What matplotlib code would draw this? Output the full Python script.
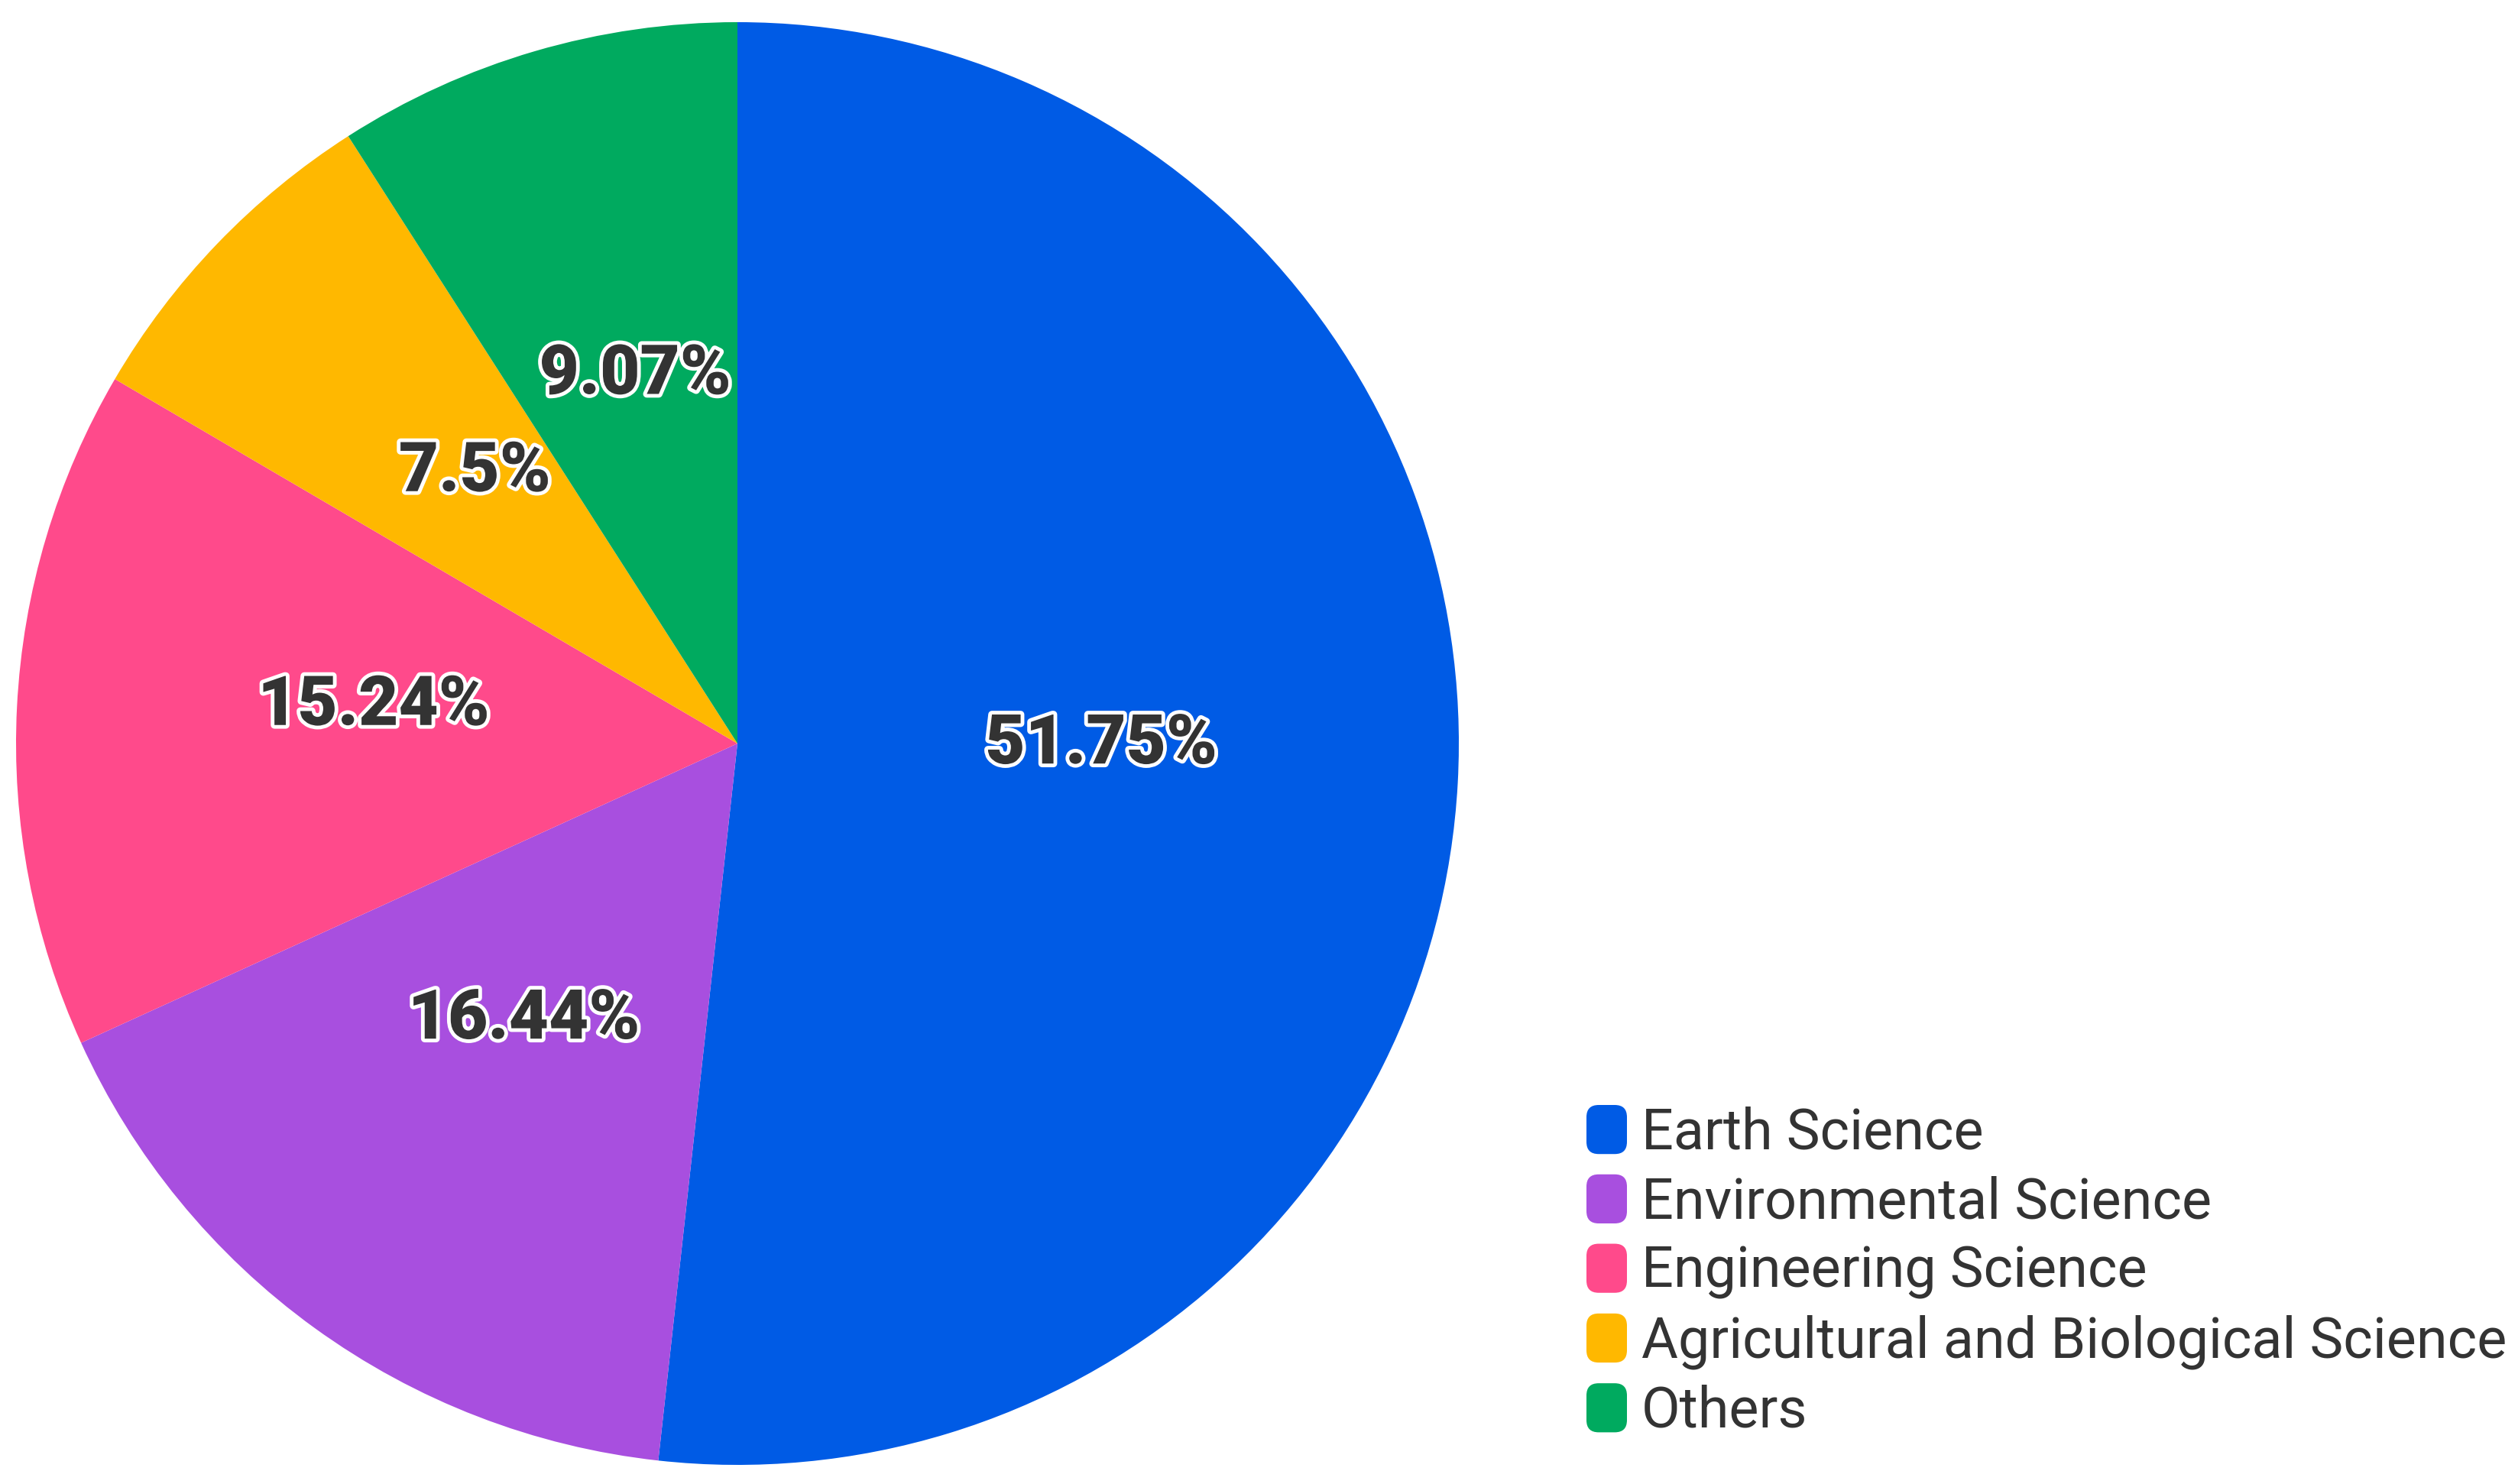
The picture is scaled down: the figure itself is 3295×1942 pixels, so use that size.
import matplotlib
matplotlib.use("Agg")
import matplotlib.pyplot as plt
import matplotlib.patheffects as pe
from matplotlib.patches import FancyBboxPatch, Patch
from matplotlib.legend_handler import HandlerPatch
import numpy as np

categories = ["Earth Science", "Environmental Science", "Engineering Science",
              "Agricultural and Biological Science", "Others"]
values = [51.75, 16.44, 15.24, 7.5, 9.07]
labels_pct = ["51.75%", "16.44%", "15.24%", "7.5%", "9.07%"]
colors = ["#005BE5", "#A84FDF", "#FF4A8B", "#FFB800", "#00AA5F"]

W, H = 3295, 1942
fig = plt.figure(figsize=(W / 100, H / 100), dpi=100)
fig.patch.set_facecolor("white")

cx, cy, r = 965, 973, 944
ax = fig.add_axes([(cx - r) / W, (H - cy - r) / H, 2 * r / W, 2 * r / H])
ax.set_aspect("equal")

wedges, _ = ax.pie(values, colors=colors, startangle=90, counterclock=False,
                   radius=1.0, wedgeprops=dict(linewidth=0))
ax.set_xlim(-1, 1)
ax.set_ylim(-1, 1)
ax.axis("off")

fam = ["Roboto", "DejaVu Sans"]
for w, lab in zip(wedges, labels_pct):
    mid = np.deg2rad((w.theta1 + w.theta2) / 2)
    x, y = 0.505 * np.cos(mid), 0.505 * np.sin(mid)
    ax.annotate(lab, (x, y), xytext=(0, 18), textcoords="offset points",
                ha="center", va="center", fontsize=65,
                fontweight=900, color="#333333", family=fam,
                path_effects=[pe.withStroke(linewidth=7, foreground="white")])


class RoundHandler(HandlerPatch):
    def create_artists(self, legend, orig_handle, xdescent, ydescent,
                       width, height, fontsize, trans):
        p = FancyBboxPatch((-xdescent, -ydescent), width, height,
                           boxstyle="round,pad=0,rounding_size=%f" % (width * 0.3),
                           facecolor=orig_handle.get_facecolor(),
                           edgecolor="none", transform=trans)
        return [p]


handles = [Patch(facecolor=c) for c in colors]
leg = fig.legend(handles, categories, loc="upper left",
                 bbox_to_anchor=(2076 / W, 1 - 1446 / H),
                 frameon=False, borderpad=0, borderaxespad=0,
                 handlelength=0.72, handleheight=0.965, handletextpad=0.26,
                 labelspacing=0.25,
                 prop=dict(family=fam, size=53),
                 labelcolor="#333333",
                 handler_map={Patch: RoundHandler()})

fig.savefig("out.png", dpi=100, facecolor="white")
